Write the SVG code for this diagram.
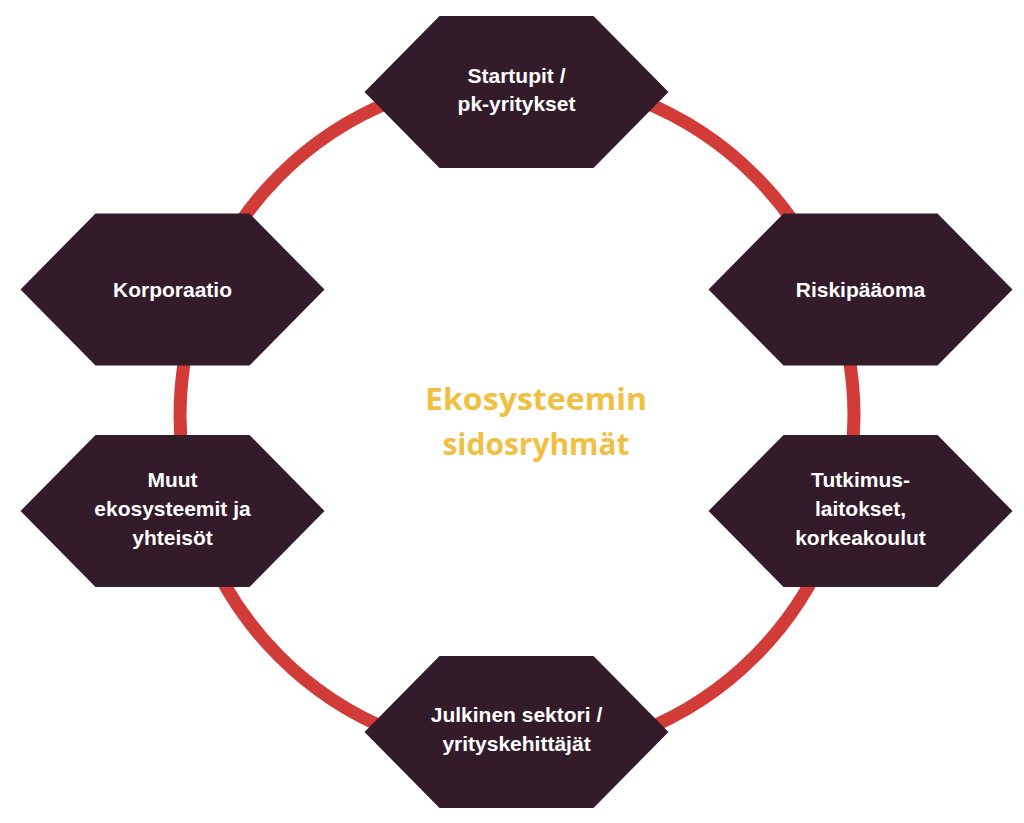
<svg xmlns="http://www.w3.org/2000/svg" xmlns:xlink="http://www.w3.org/1999/xlink" width="1024" height="823" viewBox="0 0 1024 823">
  <style>
    .hex { fill: #341b2a; }
    .lbl { fill: #ffffff; font-family: "Liberation Sans", Arial, sans-serif; font-weight: bold; font-size: 21px; text-anchor: middle; }
    .title { fill: #f0c043; font-family: "Open Sans", "Liberation Sans", sans-serif; font-weight: bold; font-size: 31px; text-anchor: middle; }
    .ring { fill: none; stroke: #d13b38; stroke-width: 13; }
  </style>
  <defs>
    <polygon id="hexshape" points="-152,0 -77,-76 77,-76 152,0 77,76 -77,76"/>
  </defs>
  <rect width="1024" height="823" fill="#ffffff"/>
  <g id="connectors">
    <ellipse class="ring" cx="517" cy="416" rx="337" ry="339"/>
  </g>
  <g id="title">
    <text class="title" x="536" y="410" textLength="222" lengthAdjust="spacingAndGlyphs">Ekosysteemin</text>
    <text class="title" x="536" y="455" textLength="187" lengthAdjust="spacingAndGlyphs">sidosryhmät</text>
  </g>
  <g id="node-startupit" transform="translate(516.5,92)">
    <use xlink:href="#hexshape" class="hex"/>
    <text class="lbl" x="0" y="-9">Startupit /</text>
    <text class="lbl" x="0" y="19">pk-yritykset</text>
  </g>
  <g id="node-korporaatio" transform="translate(172.5,289.5)">
    <use xlink:href="#hexshape" class="hex"/>
    <text class="lbl" x="0" y="7">Korporaatio</text>
  </g>
  <g id="node-riskipaaoma" transform="translate(860.5,289.5)">
    <use xlink:href="#hexshape" class="hex"/>
    <text class="lbl" x="0" y="7">Riskipääoma</text>
  </g>
  <g id="node-muut" transform="translate(172.5,511)">
    <use xlink:href="#hexshape" class="hex"/>
    <text class="lbl" x="0" y="-24">Muut</text>
    <text class="lbl" x="0" y="5">ekosysteemit ja</text>
    <text class="lbl" x="0" y="34">yhteisöt</text>
  </g>
  <g id="node-tutkimus" transform="translate(860.5,511)">
    <use xlink:href="#hexshape" class="hex"/>
    <text class="lbl" x="0" y="-24">Tutkimus-</text>
    <text class="lbl" x="0" y="5">laitokset,</text>
    <text class="lbl" x="0" y="34">korkeakoulut</text>
  </g>
  <g id="node-julkinen" transform="translate(516.5,732)">
    <use xlink:href="#hexshape" class="hex"/>
    <text class="lbl" x="0" y="-10">Julkinen sektori /</text>
    <text class="lbl" x="0" y="19">yrityskehittäjät</text>
  </g>
</svg>
